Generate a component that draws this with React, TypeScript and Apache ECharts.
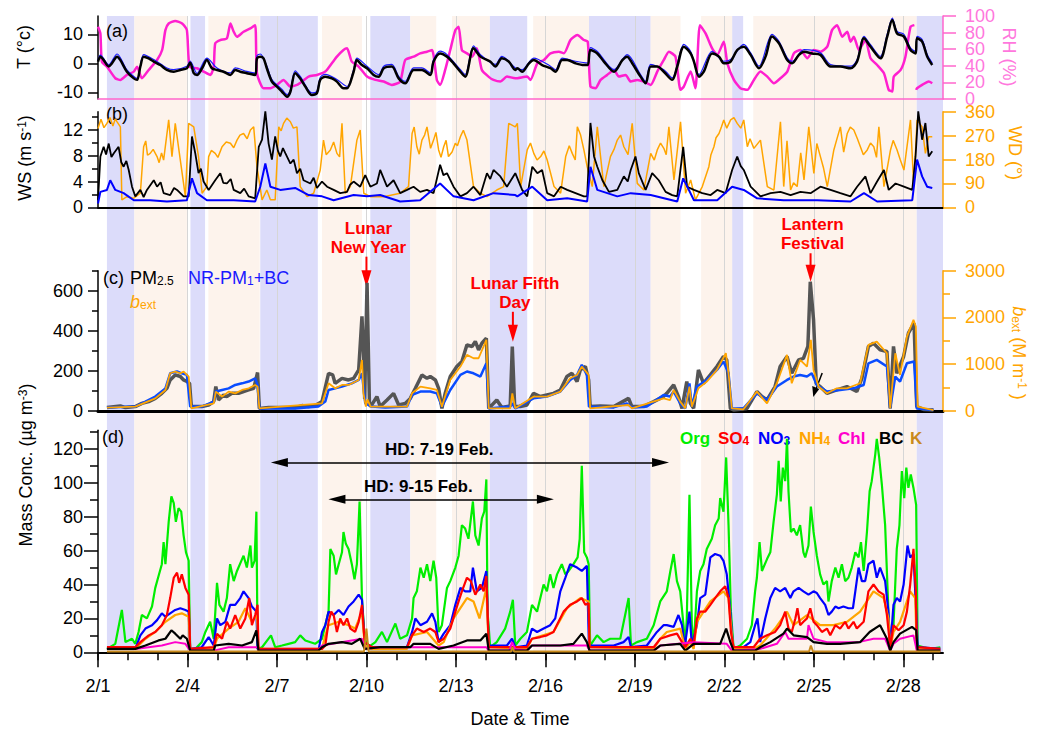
import React, { useEffect, useRef } from 'react';
import * as echarts from 'echarts';

// ---------------- axis ticks / labels ----------------
const dayTicks = [0, 3, 6, 9, 12, 15, 18, 21, 24, 27];
const dayLabels = ['2/1', '2/4', '2/7', '2/10', '2/13', '2/16', '2/19', '2/22', '2/25', '2/28'];
const allDays = Array.from({ length: 29 }, (_, i) => i);
const gridDays = [3, 6, 9, 12, 15, 18, 21, 24, 27];
const rhTicks = [0, 20, 40, 60, 80, 100];

// ---------------- shaded periods (day since 2/1 00:00) ----------------
const blueBands = [[0.30, 1.22], [3.10, 3.59], [5.44, 7.37], [9.13, 10.47], [13.13, 14.39], [16.46, 18.53], [21.26, 21.63], [27.44, 28.34]];
const peachBands = [[1.22, 2.98], [3.70, 5.42], [7.51, 8.85], [10.47, 11.34], [11.87, 13.13], [14.59, 16.46], [18.53, 19.53], [20.22, 21.26], [21.97, 27.44]];

// ---------------- panel (a) ----------------
const tBlack = [[0,0.6],[0.08,2.3],[0.19,1.1],[0.36,-1.1],[0.47,0],[0.64,2.3],[0.75,1.1],[0.97,-2.9],[1.20,-5.2],[1.31,-5.7],[1.42,-1.1],[1.53,2.3],[1.70,1.7],[1.87,0.6],[2.09,-0.6],[2.31,-2.3],[2.54,-2.9],[2.76,-2.3],[2.98,-1.7],[3.09,0.2],[3.21,-3.4],[3.32,-4.0],[3.49,-1.7],[3.65,1.1],[3.82,-1.7],[3.99,-2.3],[4.21,-2.9],[4.44,-4.0],[4.60,-2.3],[4.77,-2.9],[4.99,-3.4],[5.27,-4.0],[5.33,1.7],[5.44,2.3],[5.55,1.7],[5.66,-1.7],[5.83,-6.3],[6.00,-8.0],[6.17,-9.8],[6.34,-11.5],[6.45,-9.8],[6.61,-3.4],[6.78,-5.2],[6.95,-8.0],[7.17,-10.9],[7.34,-10.3],[7.45,-5.7],[7.62,-4.6],[7.84,-5.2],[8.01,-6.3],[8.23,-8.6],[8.35,-8.6],[8.57,-2.9],[8.68,1.1],[8.85,-0.6],[9.02,-1.7],[9.24,-4.0],[9.41,-4.6],[9.58,-1.7],[9.85,-1.1],[10.08,-5.2],[10.30,-6.9],[10.58,-2.3],[10.86,-2.3],[11.14,-4.0],[11.25,0.6],[11.47,3.4],[11.70,2.3],[11.92,0],[12.15,-2.9],[12.31,-4.6],[12.59,5.2],[12.82,2.3],[13.15,0.6],[13.32,-1.1],[13.54,1.7],[13.77,0.6],[13.99,-2.3],[14.06,-1.7],[14.22,-2.9],[14.45,0],[14.61,1.1],[14.89,-0.6],[15.17,-1.7],[15.34,-2.9],[15.56,1.1],[15.73,1.1],[16.01,0],[16.29,-0.6],[16.42,-0.6],[16.51,4.6],[16.74,3.4],[16.96,0.6],[17.30,-2.9],[17.58,1.1],[17.74,2.3],[17.91,0],[18.19,-4.6],[18.36,-6.9],[18.53,-1.1],[18.75,-1.1],[18.97,-2.9],[19.25,-5.7],[19.42,-1.1],[19.64,5.7],[19.87,3.4],[19.98,0.6],[20.15,-4.6],[20.31,-2.9],[20.59,3.4],[20.82,2.3],[20.98,0],[21.21,0.6],[21.43,4.6],[21.65,5.7],[21.88,2.9],[22.16,-1.7],[22.38,2.3],[22.60,9.2],[22.83,6.9],[23.11,1.1],[23.27,0],[23.50,2.9],[23.67,4.0],[23.94,3.4],[24.22,2.9],[24.56,-1.1],[24.89,-1.1],[25.23,-1.7],[25.45,0.6],[25.68,8.6],[25.90,5.7],[26.23,1.7],[26.46,9.2],[26.63,14.9],[26.79,10.3],[27.02,9.2],[27.24,4.6],[27.41,3.4],[27.46,8.6],[27.63,7.5],[27.80,2.3],[27.97,-0.6]];
const tBlue = [[0,1.2],[0.08,2.8],[0.36,-0.5],[0.64,3.2],[0.97,-2.3],[1.31,-5.2],[1.53,3.0],[1.87,1.3],[2.31,-1.6],[2.54,-2.2],[2.98,-1.0],[3.09,0.8],[3.32,-3.5],[3.65,1.8],[3.99,-1.6],[4.44,-3.3],[4.60,-1.6],[4.99,-2.8],[5.27,-3.4],[5.33,2.6],[5.44,3.2],[5.66,-0.9],[5.83,-5.6],[6.17,-9.0],[6.34,-10.8],[6.45,-9.1],[6.61,-2.6],[6.78,-4.5],[7.17,-10.2],[7.34,-9.6],[7.45,-4.9],[7.62,-3.8],[8.01,-5.6],[8.35,-8.0],[8.57,-2.2],[8.68,1.8],[9.02,-1.0],[9.41,-3.9],[9.58,-1.0],[9.85,-0.4],[10.08,-4.5],[10.30,-6.2],[10.58,-1.6],[10.86,-1.6],[11.14,-3.3],[11.25,1.3],[11.47,4.2],[11.70,3.0],[12.15,-2.2],[12.31,-3.9],[12.59,6.0],[12.82,3.0],[13.32,-0.4],[13.54,2.4],[13.99,-1.6],[14.22,-2.2],[14.61,1.8],[15.17,-1.0],[15.34,-2.2],[15.56,1.8],[16.01,0.7],[16.42,0.1],[16.51,5.4],[16.74,4.1],[17.30,-2.2],[17.74,3.0],[18.19,-3.9],[18.36,-6.2],[18.53,-0.4],[18.97,-2.2],[19.25,-5.0],[19.64,6.5],[19.87,4.1],[20.15,-3.9],[20.59,4.1],[20.98,0.7],[21.21,1.3],[21.65,6.5],[21.88,3.6],[22.16,-1.0],[22.60,10.0],[22.83,7.6],[23.11,1.8],[23.27,0.7],[23.67,4.7],[24.22,3.6],[24.56,-0.4],[25.23,-1.0],[25.45,1.3],[25.68,9.3],[25.90,6.4],[26.23,2.4],[26.46,10.0],[26.63,15.6],[26.79,11.0],[27.02,10.0],[27.24,5.3],[27.41,4.1],[27.46,9.3],[27.63,8.2],[27.80,3.0],[27.97,0.1]];
const rh = [[0,87],[0.08,79],[0.13,45],[0.30,39],[0.58,25],[0.75,23],[0.97,29],[1.20,33],[1.31,39],[1.47,25],[1.70,35],[1.98,47],[2.15,59],[2.26,83],[2.37,91],[2.59,94],[2.82,91],[2.98,83],[3.07,39],[3.32,37],[3.54,33],[3.77,29],[3.88,39],[3.93,67],[4.10,71],[4.32,73],[4.44,91],[4.55,81],[4.66,75],[4.88,81],[5.11,85],[5.27,89],[5.33,31],[5.55,13],[5.78,13],[6.00,17],[6.22,23],[6.45,15],[6.67,17],[6.84,21],[7.06,27],[7.34,29],[7.62,33],[7.84,43],[8.01,51],[8.23,59],[8.35,61],[8.51,45],[8.74,39],[9.02,27],[9.30,23],[9.58,21],[9.85,17],[10.13,21],[10.30,47],[10.58,51],[10.80,55],[11.03,57],[11.20,59],[11.36,23],[11.47,17],[11.64,35],[11.81,59],[11.98,83],[12.09,87],[12.20,59],[12.37,55],[12.54,51],[12.70,61],[12.87,35],[13.09,27],[13.26,23],[13.49,21],[13.71,27],[13.99,25],[14.39,27],[14.50,23],[14.73,43],[14.95,47],[15.17,55],[15.45,57],[15.62,55],[15.84,71],[16.07,77],[16.29,71],[16.42,69],[16.51,15],[16.68,13],[16.85,23],[17.07,29],[17.30,35],[17.46,27],[17.69,29],[17.86,21],[18.08,23],[18.30,21],[18.53,17],[18.75,33],[18.97,47],[19.14,57],[19.36,51],[19.53,11],[19.64,15],[19.87,33],[20.03,13],[20.18,89],[20.37,79],[20.59,61],[20.76,53],[20.98,69],[21.10,43],[21.32,23],[21.54,13],[21.77,11],[21.99,23],[22.21,33],[22.44,27],[22.66,19],[22.88,25],[23.11,33],[23.33,55],[23.55,59],[23.78,49],[24.00,59],[24.22,57],[24.45,63],[24.61,83],[24.78,89],[24.95,75],[25.12,81],[25.23,69],[25.34,75],[25.51,59],[25.73,71],[25.90,49],[26.12,41],[26.35,31],[26.51,11],[26.63,9],[26.68,27],[26.91,35],[27.07,51],[27.24,87],[27.37,89],[27.40,null],[27.43,11],[27.46,13],[27.63,17],[27.85,21],[27.97,19]];

// ---------------- panel (b) ----------------
const wsBlack = [[0,1.1],[0.08,7.9],[0.19,9.4],[0.27,8.2],[0.36,9.9],[0.45,7.8],[0.53,8.4],[0.69,9.4],[0.78,7.0],[0.86,6.3],[0.95,7.2],[1.03,5.8],[1.14,3.2],[1.25,1.7],[1.42,2.7],[1.53,1.6],[1.64,2.7],[1.87,4.2],[1.98,3.2],[2.10,3.9],[2.20,2.2],[2.42,1.9],[2.55,3.0],[2.65,2.7],[2.87,1.7],[3.04,1.7],[3.15,11.0],[3.26,8.4],[3.37,5.3],[3.45,6.0],[3.54,4.0],[3.71,2.7],[3.93,4.2],[4.10,5.3],[4.20,3.8],[4.32,3.7],[4.45,4.4],[4.55,2.7],[4.77,2.2],[4.90,2.9],[5.05,1.7],[5.27,1.4],[5.39,9.4],[5.50,10.5],[5.61,14.9],[5.72,9.9],[5.83,7.4],[5.94,11.0],[6.03,8.8],[6.11,7.9],[6.20,9.2],[6.28,8.4],[6.45,6.8],[6.56,7.4],[6.67,5.3],[6.78,6.0],[6.89,4.2],[7.12,3.7],[7.23,4.6],[7.34,3.0],[7.51,4.0],[7.68,3.2],[7.90,2.7],[8.12,2.2],[8.35,2.4],[8.45,3.5],[8.57,4.0],[8.79,3.2],[8.96,5.0],[9.13,3.2],[9.35,3.7],[9.46,5.8],[9.69,3.2],[9.91,4.2],[10.13,2.2],[10.36,2.7],[10.58,3.2],[10.80,2.4],[11.03,2.7],[11.25,2.2],[11.47,6.6],[11.58,5.0],[11.70,5.3],[11.92,3.2],[12.15,1.7],[12.37,2.2],[12.59,3.2],[12.82,1.9],[13.04,5.3],[13.15,4.4],[13.26,5.8],[13.49,4.8],[13.71,3.2],[13.99,5.3],[14.22,2.7],[14.39,1.7],[14.56,6.3],[14.73,5.3],[14.89,5.8],[15.06,2.2],[15.29,1.7],[15.51,3.2],[15.73,2.7],[16.01,2.2],[16.29,1.7],[16.40,1.7],[16.51,13.1],[16.63,7.9],[16.74,6.3],[16.91,4.2],[17.13,2.4],[17.41,2.7],[17.63,4.8],[17.76,4.0],[17.86,5.8],[18.02,7.9],[18.13,5.3],[18.36,2.7],[18.58,5.3],[18.80,4.2],[19.03,2.4],[19.25,1.9],[19.42,1.7],[19.62,9.4],[19.75,3.2],[19.98,2.7],[20.26,2.2],[20.54,1.9],[20.76,2.7],[21.04,2.2],[21.26,5.8],[21.43,7.9],[21.55,6.4],[21.65,5.8],[21.88,3.2],[22.21,1.7],[22.55,2.2],[22.88,2.4],[23.22,1.9],[23.55,2.4],[23.89,2.2],[24.22,3.2],[24.56,2.7],[24.89,2.2],[25.23,1.7],[25.45,3.2],[25.73,4.8],[25.90,2.2],[26.12,4.0],[26.35,5.8],[26.51,2.7],[26.74,3.7],[27.02,3.2],[27.30,2.7],[27.41,7.9],[27.50,14.9],[27.63,10.5],[27.74,13.1],[27.85,7.9],[27.97,8.7]];
const wsBlue = [[0,0.6],[0.08,2.4],[0.30,2.7],[0.41,4.2],[0.58,2.7],[0.86,2.2],[1.20,1.1],[1.75,1.1],[2.31,0.9],[2.98,1.1],[3.15,4.5],[3.32,2.2],[3.65,1.1],[4.55,1.1],[5.27,0.9],[5.44,3.2],[5.61,6.8],[5.78,3.2],[6.11,2.7],[6.61,3.0],[7.06,1.9],[7.51,1.7],[7.90,1.1],[8.57,1.9],[9.02,1.7],[9.46,1.9],[10.13,0.9],[10.80,1.1],[11.47,3.7],[11.92,1.7],[12.59,1.1],[13.26,2.2],[13.99,1.9],[14.06,1.7],[14.56,3.2],[15.06,1.1],[15.73,1.4],[16.40,0.9],[16.51,6.3],[16.74,2.7],[17.41,1.7],[17.86,2.2],[18.53,1.9],[19.42,0.9],[19.62,4.5],[19.98,1.1],[20.76,1.1],[21.26,3.2],[21.65,2.7],[22.10,1.4],[22.99,1.1],[24.11,1.1],[25.23,0.9],[25.68,2.2],[26.12,0.9],[27.30,1.1],[27.46,7.4],[27.63,4.8],[27.80,3.2],[27.97,3.0]];
const wd = [[0,297],[0.30,316],[0.64,322],[0.75,303],[0.80,28],[0.97,40],[1.20,34],[1.42,53],[1.53,228],[1.75,203],[1.98,191],[2.20,178],[2.37,329],[2.48,191],[2.59,316],[2.76,178],[2.93,40],[3.04,316],[3.21,303],[3.37,191],[3.49,53],[3.65,78],[3.71,191],[3.93,203],[4.16,228],[4.44,241],[4.66,253],[4.88,278],[5.11,291],[5.22,303],[5.33,153],[5.50,28],[5.66,65],[5.78,28],[5.94,28],[6.06,303],[6.22,316],[6.45,322],[6.67,303],[6.78,78],[7.01,40],[7.23,53],[7.45,140],[7.56,253],[7.79,216],[8.01,203],[8.18,316],[8.29,53],[8.46,78],[8.68,253],[8.79,291],[8.91,53],[9.13,40],[9.58,40],[10.13,53],[10.41,78],[10.53,278],[10.69,228],[10.86,253],[11.03,303],[11.25,253],[11.42,216],[11.59,228],[11.75,191],[11.98,241],[12.15,266],[12.37,253],[12.59,78],[12.82,53],[13.04,40],[13.37,65],[13.60,78],[13.77,316],[13.99,303],[14.06,316],[14.17,78],[14.39,216],[14.61,203],[14.84,191],[15.06,178],[15.29,78],[15.51,53],[15.68,191],[15.90,203],[16.07,303],[16.29,216],[16.40,153],[16.57,78],[16.74,303],[16.96,78],[17.18,191],[17.41,253],[17.63,228],[17.91,316],[18.08,90],[18.30,65],[18.53,203],[18.75,216],[18.97,222],[19.14,303],[19.31,103],[19.53,322],[19.70,53],[19.87,103],[20.03,28],[20.26,78],[20.48,153],[20.65,228],[20.82,278],[20.98,329],[21.21,329],[21.43,316],[21.65,329],[21.77,228],[21.99,222],[22.21,253],[22.44,78],[22.66,65],[22.88,322],[22.99,78],[23.22,65],[23.44,78],[23.67,103],[23.83,303],[24.00,128],[24.22,191],[24.45,78],[24.67,216],[24.89,303],[25.12,278],[25.34,291],[25.56,228],[25.79,216],[26.01,228],[26.18,303],[26.35,78],[26.57,216],[26.79,216],[27.02,140],[27.24,329],[27.35,78],[27.46,329],[27.63,303],[27.74,203],[27.85,266],[27.97,266]];
// extra short-period swings of wind direction read between the points above
const wdDetail = [[0.10,332],[0.20,300],[0.40,338],[0.50,306],[0.58,333],[1.60,250],[1.66,196],[1.85,218],[2.05,168],[2.13,205],[3.80,214],[4.02,188],[4.30,246],[4.55,224],[4.76,272],[5.00,258],[6.14,288],[6.33,336],[6.55,298],[7.65,198],[7.90,246],[8.10,190],[10.60,302],[10.77,200],[10.95,272],[11.15,222],[11.33,282],[11.50,188],[11.67,252],[11.87,208],[12.05,232],[12.25,290],[14.50,242],[14.72,178],[14.95,212],[15.80,232],[16.00,178],[16.18,272],[17.30,218],[17.52,272],[17.77,198],[18.65,178],[18.86,242],[19.05,198],[20.55,198],[20.72,262],[20.90,302],[21.08,298],[21.32,338],[21.55,298],[21.86,258],[23.10,250],[23.32,92],[23.56,205],[24.10,240],[24.32,150],[24.76,252],[25.00,208],[25.22,302],[25.46,258],[25.66,198],[25.90,242],[26.10,188],[26.66,252],[26.90,178]];

// ---------------- panel (c) ----------------
const pm25 = [[0.30,17],[0.75,25],[0.92,17],[1.25,22],[1.47,38],[1.70,47],[1.92,63],[2.14,88],[2.31,113],[2.42,155],[2.59,180],[2.76,172],[2.87,155],[2.98,147],[3.07,138],[3.13,22],[3.48,22],[3.71,30],[3.88,47],[3.95,122],[4.04,55],[4.21,80],[4.32,72],[4.49,88],[4.71,88],[4.88,97],[5.05,105],[5.22,113],[5.35,192],[5.41,13],[5.72,17],[6.61,17],[6.84,27],[7.06,22],[7.28,27],[7.51,47],[7.73,188],[7.87,180],[7.95,138],[8.18,163],[8.40,155],[8.57,163],[8.74,205],[8.85,472],[8.90,288],[8.94,60],[9.02,640],[9.10,40],[9.14,22],[9.35,72],[9.46,22],[9.69,55],[9.91,88],[10.08,30],[10.30,38],[10.47,63],[10.64,113],[10.86,180],[11.03,163],[11.14,172],[11.31,155],[11.42,113],[11.53,13],[11.64,88],[11.81,172],[12.03,222],[12.20,247],[12.37,330],[12.54,322],[12.65,347],[12.76,305],[12.87,338],[13.02,363],[13.10,13],[13.37,55],[13.54,17],[13.82,25],[13.89,322],[13.97,22],[14.16,22],[14.38,30],[14.60,88],[14.83,72],[15.05,80],[15.27,88],[15.50,105],[15.72,172],[15.89,188],[16.06,147],[16.17,205],[16.34,222],[16.45,155],[16.50,22],[16.84,25],[17.29,22],[17.79,63],[17.90,22],[18.29,22],[18.63,47],[18.96,72],[19.07,88],[19.30,130],[19.46,72],[19.58,13],[19.74,147],[19.86,38],[19.97,13],[20.13,205],[20.30,138],[20.53,180],[20.75,222],[20.97,272],[21.08,255],[21.20,13],[21.31,5],[21.76,13],[22.09,97],[22.26,72],[22.43,55],[22.70,122],[22.87,222],[23.10,272],[23.26,188],[23.49,255],[23.65,263],[23.80,322],[23.88,645],[23.99,455],[24.08,138],[24.21,122],[24.44,88],[24.77,105],[25.11,122],[25.44,97],[25.61,163],[25.83,322],[26.00,338],[26.22,305],[26.45,297],[26.56,13],[26.67,322],[26.78,188],[27.01,272],[27.17,388],[27.36,438],[27.45,22],[27.68,8],[28.01,5]];
const nrpm1bc = [[0.30,17],[1.25,22],[1.59,47],[1.92,72],[2.26,113],[2.42,188],[2.65,197],[2.81,188],[2.98,180],[3.09,22],[3.48,22],[3.88,47],[3.95,97],[4.16,105],[4.38,113],[4.60,130],[4.83,138],[5.05,147],[5.27,163],[5.35,130],[5.41,13],[6.61,13],[7.39,22],[7.62,47],[7.73,105],[7.95,113],[8.18,122],[8.51,138],[8.74,155],[8.85,188],[8.96,38],[9.18,22],[9.63,17],[10.36,22],[10.53,80],[10.81,97],[11.14,97],[11.36,88],[11.53,22],[11.81,105],[12.15,180],[12.37,197],[12.59,188],[12.82,172],[13.02,238],[13.10,13],[13.82,22],[13.89,38],[13.99,13],[14.60,63],[15.05,72],[15.50,97],[15.83,155],[16.06,180],[16.22,230],[16.39,180],[16.46,22],[17.29,18],[17.73,38],[17.90,18],[18.40,22],[18.96,80],[19.18,72],[19.30,97],[19.52,38],[19.69,13],[19.83,138],[19.91,22],[20.08,122],[20.41,155],[20.75,205],[20.97,247],[21.14,188],[21.25,13],[21.64,13],[22.09,88],[22.43,55],[22.76,122],[23.10,155],[23.32,172],[23.54,180],[23.77,172],[23.93,188],[24.10,130],[24.44,97],[24.88,105],[25.33,113],[25.67,130],[25.83,238],[26.11,255],[26.45,222],[26.56,13],[26.73,172],[26.89,147],[27.12,238],[27.36,247],[27.45,13],[28.01,5]];
const bext = [[0.30,71],[1.25,93],[1.92,271],[2.26,450],[2.42,807],[2.59,843],[2.76,807],[2.87,843],[3.04,735],[3.13,57],[3.88,164],[3.95,414],[4.16,307],[4.38,414],[4.60,378],[4.83,450],[5.05,485],[5.27,557],[5.35,521],[5.41,57],[7.51,164],[7.73,593],[7.95,485],[8.18,557],[8.40,557],[8.74,664],[8.85,1092],[8.90,378],[8.98,93],[9.03,250],[9.14,93],[9.46,93],[10.36,93],[10.53,378],[10.81,521],[11.14,485],[11.36,450],[11.53,93],[11.81,664],[12.15,950],[12.37,1200],[12.59,1128],[12.76,1128],[13.02,1521],[13.10,57],[13.82,57],[13.89,378],[13.99,57],[14.60,307],[15.05,307],[15.50,414],[15.83,700],[16.06,771],[16.22,950],[16.45,771],[16.50,57],[17.79,128],[17.90,57],[18.96,271],[19.18,235],[19.30,450],[19.52,200],[19.69,57],[19.83,521],[19.91,93],[20.13,485],[20.41,628],[20.75,878],[21.05,1235],[21.14,807],[21.25,57],[21.64,36],[22.09,414],[22.43,164],[22.76,593],[23.10,1200],[23.26,593],[23.54,1092],[23.77,950],[23.90,1521],[23.99,878],[24.16,521],[24.44,378],[24.77,485],[25.11,485],[25.55,593],[25.83,1414],[26.11,1485],[26.45,1235],[26.56,57],[26.73,1235],[26.89,771],[27.12,1592],[27.34,1950],[27.42,1807],[27.48,93],[28.01,21]];

// ---------------- panel (d) ----------------
const org = [[0.30,2],[0.58,5],[0.80,25],[0.92,6],[1.14,8],[1.25,5],[1.36,12],[1.47,22],[1.64,20],[1.81,27],[1.92,38],[2.03,45],[2.14,52],[2.20,65],[2.26,52],[2.37,77],[2.46,92],[2.54,88],[2.61,77],[2.70,85],[2.79,83],[2.87,69],[2.95,59],[3.04,54],[3.09,2],[3.26,2],[3.48,6],[3.60,12],[3.76,18],[3.88,8],[3.99,41],[4.07,28],[4.21,24],[4.32,32],[4.43,52],[4.55,42],[4.66,48],[4.83,55],[4.88,57],[4.99,50],[5.11,63],[5.16,50],[5.25,54],[5.31,83],[5.35,2],[5.50,3],[5.80,10],[5.94,3],[6.17,4],[6.39,5],[6.61,6],[6.78,10],[6.95,7],[7.28,5],[7.51,8],[7.62,16],[7.73,24],[7.79,61],[7.90,57],[7.98,46],[8.07,52],[8.18,59],[8.23,71],[8.31,64],[8.40,61],[8.51,52],[8.60,43],[8.68,52],[8.77,89],[8.85,32],[8.94,8],[9.07,3],[9.30,6],[9.52,12],[9.69,6],[9.97,17],[10.13,8],[10.36,10],[10.53,20],[10.58,32],[10.69,36],[10.81,50],[10.92,44],[11.03,52],[11.14,42],[11.25,54],[11.34,44],[11.42,12],[11.53,16],[11.70,38],[11.81,42],[11.98,50],[12.09,57],[12.20,75],[12.31,73],[12.42,67],[12.57,89],[12.65,69],[12.76,63],[12.87,79],[12.95,83],[13.02,102],[13.06,24],[13.15,3],[13.37,6],[13.65,14],[13.82,24],[13.91,31],[13.99,4],[14.16,8],[14.38,12],[14.55,28],[14.72,24],[14.83,32],[14.94,40],[15.05,36],[15.16,46],[15.27,38],[15.39,46],[15.55,52],[15.67,46],[15.78,48],[15.94,52],[16.08,56],[16.15,67],[16.22,110],[16.30,59],[16.39,56],[16.45,52],[16.50,4],[16.73,10],[16.95,6],[17.17,8],[17.51,8],[17.79,32],[17.87,4],[18.07,6],[18.40,8],[18.63,16],[18.85,30],[19.07,36],[19.19,48],[19.30,58],[19.41,42],[19.52,36],[19.63,16],[19.69,4],[19.74,20],[19.83,93],[19.91,16],[19.97,4],[20.08,36],[20.19,48],[20.30,52],[20.41,61],[20.58,67],[20.69,75],[20.81,79],[20.86,91],[20.97,83],[21.06,115],[21.14,75],[21.22,24],[21.31,2],[21.53,4],[21.76,8],[21.92,16],[22.03,36],[22.09,44],[22.18,65],[22.26,48],[22.43,55],[22.54,59],[22.65,77],[22.76,93],[22.82,113],[22.89,89],[22.96,109],[23.04,101],[23.10,126],[23.15,95],[23.23,71],[23.32,73],[23.43,69],[23.54,75],[23.65,59],[23.71,56],[23.82,63],[23.90,86],[23.99,71],[24.10,57],[24.21,46],[24.32,40],[24.44,42],[24.49,30],[24.60,42],[24.72,50],[24.83,44],[24.94,52],[25.05,42],[25.16,44],[25.27,50],[25.39,59],[25.50,56],[25.58,65],[25.67,48],[25.78,71],[25.87,95],[25.94,101],[26.06,117],[26.11,126],[26.19,115],[26.28,99],[26.39,75],[26.50,24],[26.56,2],[26.67,16],[26.78,61],[26.87,75],[26.95,107],[27.03,91],[27.10,109],[27.17,97],[27.25,105],[27.34,97],[27.43,87],[27.48,4],[27.68,3],[27.90,2],[28.24,3]];
const no3 = [[0.30,2],[1.25,2],[1.42,10],[1.59,14],[1.81,16],[1.98,19],[2.14,23],[2.26,21],[2.42,23],[2.59,25],[2.76,26],[2.93,25],[3.04,24],[3.09,2],[3.48,3],[3.71,9],[3.88,4],[3.99,20],[4.10,16],[4.27,18],[4.43,28],[4.60,28],[4.77,32],[4.88,36],[5.05,32],[5.16,27],[5.31,24],[5.35,2],[7.39,1],[7.51,12],[7.62,16],[7.73,24],[7.90,22],[8.07,25],[8.23,22],[8.40,27],[8.57,30],[8.74,34],[8.85,31],[8.94,6],[9.18,3],[10.36,3],[10.53,12],[10.64,20],[10.81,16],[11.03,18],[11.20,23],[11.31,18],[11.42,6],[11.59,11],[11.81,16],[11.98,28],[12.15,38],[12.31,36],[12.48,36],[12.57,50],[12.70,36],[12.87,38],[13.02,48],[13.10,4],[13.71,4],[13.88,8],[13.99,3],[14.38,4],[14.55,14],[14.72,12],[14.94,14],[15.16,16],[15.33,20],[15.50,36],[15.67,44],[15.83,52],[16.06,50],[16.22,48],[16.39,51],[16.46,4],[17.29,4],[17.62,6],[17.79,9],[17.87,3],[18.40,4],[18.74,12],[18.96,16],[19.07,16],[19.30,15],[19.46,22],[19.58,16],[19.67,3],[19.74,12],[19.83,24],[19.91,4],[20.08,16],[20.19,32],[20.36,34],[20.53,56],[20.69,58],[20.86,57],[20.97,54],[21.08,46],[21.20,24],[21.29,3],[21.64,3],[21.87,6],[22.03,16],[22.11,20],[22.20,6],[22.37,20],[22.54,32],[22.70,38],[22.87,36],[23.04,38],[23.21,32],[23.32,36],[23.49,38],[23.65,36],[23.82,34],[23.99,36],[24.10,35],[24.21,32],[24.38,28],[24.49,22],[24.60,24],[24.72,27],[24.83,26],[24.99,27],[25.16,26],[25.31,26],[25.39,36],[25.50,50],[25.61,42],[25.72,42],[25.83,52],[26.00,54],[26.11,44],[26.22,50],[26.39,42],[26.50,24],[26.56,2],[26.67,28],[26.78,32],[26.89,30],[27.01,40],[27.14,63],[27.23,56],[27.34,58],[27.43,24],[27.48,3],[28.24,2]];
const so4 = [[0.30,3],[1.25,3],[1.42,6],[1.70,10],[1.92,12],[2.14,16],[2.31,22],[2.42,32],[2.54,44],[2.65,47],[2.72,41],[2.81,46],[2.93,38],[3.04,34],[3.09,2],[3.88,3],[3.99,11],[4.16,8],[4.32,18],[4.43,14],[4.60,22],[4.77,14],[4.94,20],[5.07,32],[5.16,16],[5.27,22],[5.35,28],[5.38,2],[7.51,2],[7.62,4],[7.73,18],[7.82,24],[7.90,22],[8.01,12],[8.12,20],[8.23,16],[8.35,20],[8.46,14],[8.62,12],[8.74,18],[8.85,28],[8.94,6],[9.18,3],[10.36,3],[10.53,10],[10.69,14],[10.92,12],[11.14,14],[11.31,12],[11.42,6],[11.59,8],[11.81,14],[11.98,24],[12.09,30],[12.20,36],[12.37,44],[12.50,42],[12.65,34],[12.82,40],[12.93,36],[13.02,45],[13.10,3],[14.38,3],[14.55,8],[14.83,9],[15.05,10],[15.27,12],[15.44,18],[15.61,24],[15.83,28],[16.06,30],[16.22,32],[16.34,28],[16.45,29],[16.48,3],[18.63,3],[18.85,8],[19.18,10],[19.41,11],[19.58,6],[19.69,3],[19.86,8],[19.97,4],[20.08,20],[20.19,24],[20.36,24],[20.53,28],[20.69,32],[20.86,36],[21.03,39],[21.14,32],[21.22,12],[21.31,3],[21.98,3],[22.20,8],[22.43,10],[22.70,12],[22.87,16],[23.04,24],[23.15,14],[23.26,12],[23.38,20],[23.45,26],[23.54,16],[23.65,18],[23.77,20],[23.88,26],[23.99,18],[24.10,16],[24.27,12],[24.44,14],[24.55,10],[24.72,16],[24.88,14],[25.05,18],[25.16,14],[25.33,18],[25.44,14],[25.55,16],[25.67,18],[25.83,36],[26.00,40],[26.17,36],[26.34,34],[26.45,22],[26.56,3],[26.67,16],[26.84,13],[27.01,16],[27.12,24],[27.23,40],[27.34,61],[27.42,36],[27.45,3],[28.24,2]];
const nh4 = [[0.30,2],[1.25,2],[1.59,8],[1.92,12],[2.26,18],[2.59,22],[2.81,23],[3.04,21],[3.09,2],[3.88,2],[3.99,8],[4.38,14],[4.71,18],[4.94,26],[5.16,18],[5.33,22],[5.38,2],[7.51,2],[7.62,10],[7.73,16],[8.07,18],[8.40,16],[8.62,14],[8.85,24],[8.94,4],[9.18,2],[10.36,2],[10.53,10],[11.03,12],[11.42,4],[11.59,6],[11.92,20],[12.37,32],[12.59,30],[12.79,20],[13.02,38],[13.10,3],[14.38,2],[14.55,8],[15.27,12],[15.72,26],[16.17,32],[16.45,30],[16.48,3],[18.63,2],[18.85,8],[19.07,12],[19.52,14],[19.69,2],[19.86,6],[19.97,2],[20.08,18],[20.53,30],[20.97,36],[21.14,32],[21.25,10],[21.31,2],[21.98,2],[22.20,4],[22.70,14],[23.10,24],[23.32,16],[23.77,22],[24.21,16],[24.66,16],[25.11,18],[25.55,24],[26.00,36],[26.34,32],[26.50,20],[26.56,2],[26.67,12],[26.89,18],[27.23,36],[27.40,32],[27.45,2],[28.24,1]];
const chl = [[0.30,2],[1.25,2],[2.14,4],[2.59,6],[2.93,5],[3.09,1],[3.88,1],[4.38,3],[5.35,3],[5.38,1],[7.39,1],[7.51,4],[8.85,8],[8.96,2],[9.46,3],[11.42,3],[13.02,3],[13.10,1],[13.80,1],[13.88,6],[13.99,2],[14.38,1],[14.55,4],[16.39,4],[16.48,1],[18.63,1],[18.85,4],[19.97,6],[21.08,5],[21.25,1],[22.20,2],[22.76,5],[23.04,12],[23.15,8],[23.77,8],[23.82,16],[23.99,8],[24.44,6],[25.50,6],[26.00,8],[26.39,8],[26.56,1],[26.67,5],[26.89,8],[27.34,10],[27.45,1],[28.24,1]];
const bc = [[0.30,2],[1.25,2],[1.59,4],[2.03,7],[2.26,8],[2.46,13],[2.59,11],[2.76,8],[2.84,10],[2.98,8],[3.09,1],[3.88,1],[3.93,4],[4.38,5],[4.83,4],[5.16,6],[5.31,13],[5.38,1],[7.39,1],[7.51,3],[7.73,5],[8.18,6],[8.51,5],[8.79,8],[8.94,2],[9.46,3],[10.47,3],[10.58,5],[11.14,5],[11.42,2],[11.92,4],[12.37,7],[12.82,7],[13.02,11],[13.10,1],[14.38,1],[14.55,4],[15.50,4],[15.94,5],[16.22,11],[16.39,6],[16.48,1],[18.63,1],[18.85,4],[19.52,5],[19.69,1],[19.97,5],[20.86,5],[21.06,14],[21.20,6],[21.31,1],[22.03,1],[22.20,3],[22.54,6],[22.98,11],[23.10,14],[23.32,10],[23.77,9],[23.99,6],[24.44,5],[24.88,5],[25.55,6],[25.87,12],[26.22,16],[26.45,8],[26.56,1],[26.67,6],[26.89,11],[27.29,15],[27.43,13],[27.48,1],[28.24,1]];
const kk = [[0.30,0.5],[8.92,0.5],[9.00,14],[9.07,0.5],[13.85,0.5],[13.89,3],[13.95,0.5],[23.84,0.5],[23.90,4],[23.97,0.5],[28.24,0.5]];

// ---------------- annotations ----------------
const eventLabels = ['Lunar\nNew Year', 'Lunar Fifth\nDay', 'Lantern\nFestival'];
const eventDays = [9.0, 13.91, 23.89];
const eventTip = [617, 346, 645];
const eventTail = [770, 495, 787];
const hdLabels = ['HD: 7-19 Feb.', 'HD: 9-15 Feb.'];
const hdSpans = [[6.08, 18.86, 112], [8.01, 15.0, 90.3]];
const hdLabelPos = [[11.44, 119.5], [10.74, 98.1]];

const FONT = '"Liberation Sans", Arial, Helvetica, sans-serif';
const X_MAX = 28.33;

export default function App() {
  const ref = useRef<HTMLDivElement>(null);
  useEffect(() => {
    const el = ref.current as HTMLDivElement;
    const chart = echarts.init(el, null, { renderer: 'svg' });

    const wdAll = [...wd, ...wdDetail].sort((a, b) => a[0] - b[0]);

    const lbl = (extra: any = {}) => ({ fontSize: 18, color: '#000', fontFamily: FONT, ...extra });
    const xBase = (gi: number) => ({
      type: 'value', gridIndex: gi, min: 0, max: X_MAX, position: 'bottom',
      splitLine: { show: false }, axisTick: { show: false }, axisLabel: { show: false },
      axisLine: { show: false, onZero: false },
    });
    const yAx = (gi: number, pos: string, min: number, max: number, o: any) => ({
      type: 'value', gridIndex: gi, position: pos, min, max,
      splitLine: { show: false },
      axisLine: o.line ? { show: true, onZero: false, lineStyle: { color: o.color, width: 1.5 } } : { show: false, onZero: false },
      axisTick: o.ticks ? { show: true, customValues: o.ticks, length: o.len, lineStyle: { color: o.color, width: 1.5 } } : { show: false },
      axisLabel: o.labels ? {
        show: true, customValues: o.labels, margin: o.margin, showMinLabel: true, showMaxLabel: true, hideOverlap: false,
        lineHeight: o.lh || 20, formatter: (v: number) => String(v), ...lbl({ color: o.lcolor || o.color }),
      } : { show: false },
    });

    const pink = '#ff66cc';
    const pinkLabel = '#ff77dd';
    const orange = '#ffa500';

    const line = (data: any, xi: number, yi: number, color: string, width: number, smooth: any = false) => ({
      type: 'line', data, xAxisIndex: xi, yAxisIndex: yi, showSymbol: false, symbol: 'none', smooth,
      lineStyle: { color, width }, itemStyle: { color }, connectNulls: false, silent: true,
    });

    const option: any = {
      animation: false,
      textStyle: { fontFamily: FONT },
      grid: [
        { left: 98, top: 16, width: 845, height: 636.3 },
        { left: 98, top: 16, width: 845, height: 83 },
        { left: 98, top: 111.7, width: 845, height: 95.6 },
        { left: 98, top: 270.7, width: 845, height: 140.3 },
        { left: 98, top: 430.3, width: 845, height: 222 },
      ],
      xAxis: [
        { ...xBase(0), show: false },
        { ...xBase(1), axisLine: { show: true, onZero: false, lineStyle: { color: pink, width: 1.5 } } },
        { ...xBase(2), axisLine: { show: true, onZero: false, lineStyle: { color: '#000', width: 2 } } },
        { ...xBase(3), axisLine: { show: true, onZero: false, lineStyle: { color: '#000', width: 3 } } },
        {
          ...xBase(4),
          axisLine: { show: true, onZero: false, lineStyle: { color: '#000', width: 2 } },
          axisTick: { show: true, customValues: dayTicks, length: 15, lineStyle: { color: '#000', width: 1.5 } },
          axisLabel: { show: true, customValues: dayTicks, margin: 25, formatter: (v: number) => dayLabels[dayTicks.indexOf(v)] ?? '', ...lbl() },
        },
        { ...xBase(4), axisTick: { show: true, customValues: allDays, length: 8, lineStyle: { color: '#000', width: 1.5 } } },
      ],
      yAxis: [
        { type: 'value', gridIndex: 0, min: 0, max: 1, show: false },
        yAx(1, 'left', -12.3, 16.3, { line: true, color: '#000', ticks: [-10, 0, 10], len: 10, labels: [-10, 0, 10], margin: 15 }),
        yAx(1, 'right', 0, 100, { line: true, color: pink, ticks: rhTicks, len: 13 }),
        yAx(2, 'left', 0, 14.85, { line: true, color: '#000', ticks: [0, 4, 8, 12], len: 10, labels: [0, 4, 8, 12], margin: 15 }),
        yAx(2, 'right', 0, 360, { line: true, color: orange, ticks: [0, 90, 180, 270, 360], len: 13, labels: [0, 90, 180, 270, 360], margin: 22, lh: 12 }),
        yAx(3, 'left', 0, 700, { line: true, color: '#000', ticks: [0, 200, 400, 600], len: 10, labels: [0, 200, 400, 600], margin: 15 }),
        yAx(3, 'right', 0, 3000, { line: true, color: orange, ticks: [0, 1000, 2000, 3000], len: 13, labels: [0, 1000, 2000, 3000], margin: 22 }),
        yAx(4, 'left', 0, 131, { line: true, color: '#000', ticks: [0, 20, 40, 60, 80, 100, 120], len: 14, labels: [0, 20, 40, 60, 80, 100, 120], margin: 15 }),
        yAx(2, 'left', 0, 14.85, { color: '#000', ticks: [2, 6, 10, 14], len: 6 }),
        yAx(3, 'left', 0, 700, { color: '#000', ticks: [100, 300, 500, 700], len: 6 }),
        yAx(3, 'right', 0, 3000, { color: orange, ticks: [500, 1500, 2500], len: 7 }),
        yAx(4, 'left', 0, 131, { color: '#000', ticks: [10, 30, 50, 70, 90, 110, 130], len: 8 }),
      ],
      series: [
        {
          type: 'line', xAxisIndex: 0, yAxisIndex: 0, data: [], silent: true, z: -1,
          markArea: {
            silent: true, z: -2,
            data: [
              ...blueBands.map(b => [{ xAxis: b[0], itemStyle: { color: '#dcdcfa' } }, { xAxis: b[1] }]),
              ...peachBands.map(b => [{ xAxis: b[0], itemStyle: { color: '#fdf3ec' } }, { xAxis: b[1] }]),
            ],
          },
          markLine: {
            silent: true, z: -1, symbol: ['none', 'none'], label: { show: false },
            lineStyle: { color: '#d6d6d6', width: 1, type: 'solid' },
            data: gridDays.map(d => ({ xAxis: d })),
          },
        },
        line(rh, 1, 2, '#ff1fcf', 2.5, 0.2),
        line(tBlue, 1, 1, '#1a1aff', 1.2, 0.3),
        line(tBlack, 1, 1, '#000', 2.5, 0.3),
        line(wdAll, 2, 4, orange, 1.5),
        line(wsBlack, 2, 3, '#000', 1.8),
        line(wsBlue, 2, 3, '#0000ff', 2),
        line(pm25, 3, 5, '#555555', 3.5),
        line(nrpm1bc, 3, 5, '#0a4cff', 2.5),
        line(bext, 3, 6, orange, 1.8),
        line(org, 4, 7, '#00ee00', 2.2),
        line(no3, 4, 7, '#0000ff', 2.2),
        line(nh4, 4, 7, orange, 2.2),
        line(so4, 4, 7, '#ff0000', 2.2),
        line(chl, 4, 7, '#ff00cc', 2),
        line(bc, 4, 7, '#000', 2.2),
        {
          ...line(kk, 4, 7, '#c98a1b', 2),
          markLine: {
            silent: true, symbol: ['triangle', 'triangle'], symbolSize: [9, 17], label: { show: false },
            lineStyle: { color: '#000', width: 1.5, type: 'solid' }, itemStyle: { color: '#000' },
            data: hdSpans.map(s => [{ coord: [s[0], s[2]] }, { coord: [s[1], s[2]] }]),
          },
        },
      ],
    };
    chart.setOption(option);

    const P = (xi: number, yi: number, d: number, v: number) =>
      chart.convertToPixel({ xAxisIndex: xi, yAxisIndex: yi } as any, [d, v]) as unknown as number[];

    const sub = (fs: number, color: string) => ({ fontSize: fs, fill: color, verticalAlign: 'bottom', lineHeight: 12, fontFamily: FONT });
    const sup = (fs: number, color: string) => ({ fontSize: fs, fill: color, verticalAlign: 'top', lineHeight: 12, fontFamily: FONT });
    const txt = (x: number, y: number, text: string, style: any = {}, extra: any = {}) => ({
      type: 'text', x, y, silent: true, ...extra,
      style: { text, fontSize: 18, fontFamily: FONT, fill: '#000', align: 'left', verticalAlign: 'middle', ...style },
    });

    const g: any[] = [];
    // RH tick labels (placed through the RH axis scale)
    const rightEdge = P(1, 2, X_MAX, 0)[0];
    rhTicks.forEach(v => {
      const p = P(1, 2, X_MAX, v);
      g.push(txt(rightEdge + 22, p[1], String(v), { fill: pinkLabel, lineHeight: 12 }));
    });

    eventDays.forEach((d, i) => {
      const tip = P(3, 5, d, eventTip[i]);
      const tail = P(3, 5, d, eventTail[i]);
      g.push({ type: 'line', silent: true, shape: { x1: tail[0], y1: tail[1], x2: tip[0], y2: tip[1] - 14 }, style: { stroke: '#ff0000', lineWidth: 2 } });
      g.push({ type: 'polygon', silent: true, shape: { points: [[tip[0] - 5, tip[1] - 17], [tip[0] + 5, tip[1] - 17], [tip[0], tip[1]]] }, style: { fill: '#ff0000' } });
      g.push(txt(tail[0] + 2, tail[1], eventLabels[i], { fill: '#ff0000', fontWeight: 'bold', fontSize: 17, align: 'center', verticalAlign: 'bottom', lineHeight: 19 }));
    });
    // small black arrow near Lantern Festival
    const a1 = P(3, 5, 24.28, 190);
    const a2 = P(3, 5, 23.98, 70);
    g.push({ type: 'line', silent: true, shape: { x1: a1[0], y1: a1[1], x2: a2[0] + 2, y2: a2[1] - 6 }, style: { stroke: '#000', lineWidth: 1.5 } });
    g.push({ type: 'polygon', silent: true, shape: { points: [[a2[0], a2[1]], [a2[0] - 1, a2[1] - 11], [a2[0] + 6, a2[1] - 8]] }, style: { fill: '#000' } });

    hdLabels.forEach((t, i) => {
      const p = P(4, 7, hdLabelPos[i][0], hdLabelPos[i][1]);
      g.push(txt(p[0], p[1], t, { fontWeight: 'bold', fontSize: 17, align: 'center' }));
    });

    // panel labels
    g.push(txt(106, 31, '(a)'));
    g.push(txt(106, 114, '(b)'));
    g.push(txt(103, 278, '(c)'));
    g.push(txt(130, 278, 'PM{s|2.5}', { rich: { s: sub(12, '#000') } }));
    g.push(txt(188, 278, 'NR-PM{s|1}+BC', { fill: '#1a1aff', rich: { s: sub(12, '#1a1aff') } }));
    g.push(txt(130, 302, '{i|b}{s|ext}', { fill: orange, rich: { i: { fontStyle: 'italic', fontSize: 18, fill: orange, fontFamily: FONT }, s: sub(12, orange) } }));
    g.push(txt(102, 437, '(d)'));

    // legend
    const leg: [number, string, string, string][] = [
      [680, 'Org', '', '#00ee00'], [718, 'SO', '4', '#ff0000'], [758, 'NO', '3', '#0000ff'],
      [799, 'NH', '4', orange], [838, 'Chl', '', '#ff00cc'], [879, 'BC', '', '#000'], [910, 'K', '', '#c98a1b'],
    ];
    leg.forEach(([x, t, s, c]) => {
      g.push(txt(x, 438, s ? `${t}{s|${s}}` : t, { fill: c, fontWeight: 'bold', fontSize: 17, rich: { s: { ...sub(12, c), fontWeight: 'bold' } } }));
    });

    // axis titles
    const rotL = { rotation: Math.PI / 2 };
    const rotR = { rotation: -Math.PI / 2 };
    g.push(txt(24, 47, 'T (°c)', { align: 'center' }, rotL));
    g.push(txt(25, 158, 'WS (m s{p|-1})', { align: 'center', rich: { p: sup(12, '#000') } }, rotL));
    g.push(txt(26, 465, 'Mass Conc. (µg m{p|-3})', { align: 'center', rich: { p: sup(12, '#000') } }, rotL));
    g.push(txt(1009, 57, 'RH (%)', { align: 'center', fill: pinkLabel }, rotR));
    g.push(txt(1015, 153, 'WD (°)', { align: 'center', fill: orange }, rotR));
    g.push(txt(1019, 353, '{i|b}{s|ext} (M m{p|-1} )', {
      align: 'center', fill: orange,
      rich: { i: { fontStyle: 'italic', fontSize: 18, fill: orange, fontFamily: FONT }, s: sub(12, orange), p: sup(12, orange) },
    }, rotR));
    g.push(txt(520, 719, 'Date & Time', { align: 'center' }));

    chart.setOption({ graphic: g });
    return () => chart.dispose();
  }, []);
  return <div ref={ref} style={{ position: 'absolute', left: 0, top: 0, width: 1037, height: 729 }} />;
}
